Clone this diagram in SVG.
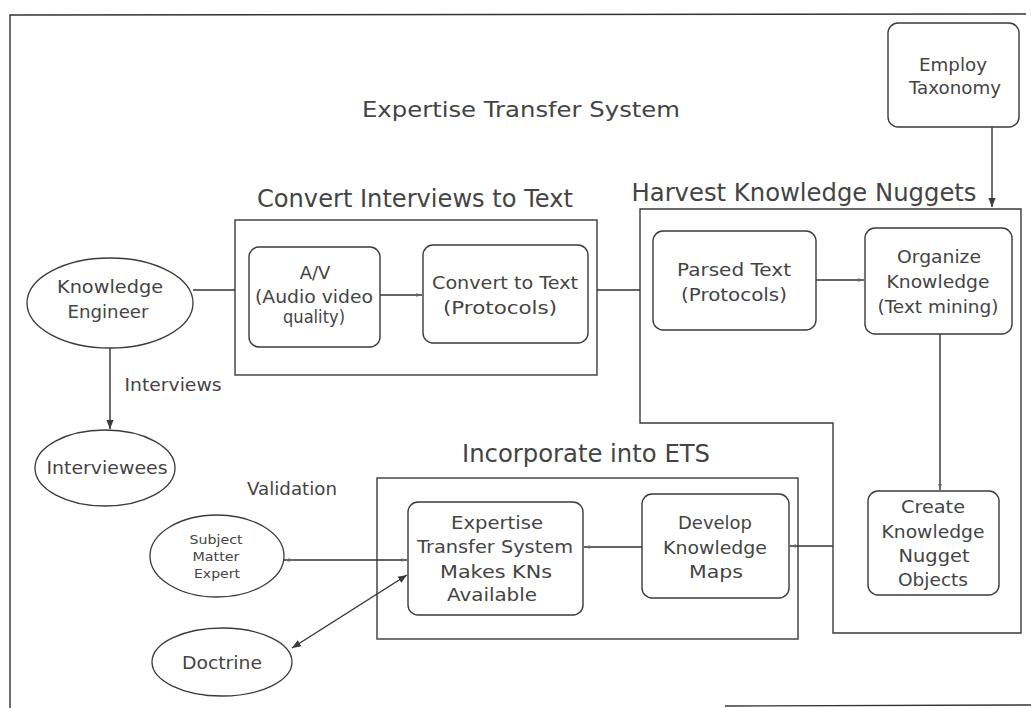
<svg xmlns="http://www.w3.org/2000/svg" width="1031" height="708" viewBox="0 0 1031 708">
<defs>
<marker id="ah" viewBox="0 0 10 10" refX="10" refY="5" markerWidth="9" markerHeight="9" orient="auto-start-reverse" markerUnits="userSpaceOnUse">
<path d="M0,1 L10,5 L0,9 Z" fill="#3a3a3a"/>
</marker>
<marker id="as" viewBox="0 0 10 10" refX="10" refY="5" markerWidth="6" markerHeight="6" orient="auto-start-reverse" markerUnits="userSpaceOnUse">
<path d="M0,2 L10,5 L0,8 Z" fill="#666"/>
</marker>
<style>
text{font-family:"DejaVu Sans","Liberation Sans",sans-serif;fill:#444;text-anchor:middle;}
.t{font-size:18px;}
.s{font-size:13px;}
.h{font-size:24px;}
.b{fill:none;stroke:#3a3a3a;stroke-width:1.4;}
.e{fill:none;stroke:#3a3a3a;stroke-width:1.3;}
.c{fill:none;stroke:#333;stroke-width:1.4;}
</style>
</defs>
<rect width="1031" height="708" fill="#fff"/>
<g id="frame">
<path class="c" d="M10,708 L10,15 L1026,14"/>
<path class="c" d="M725,706 L1031,705"/>
</g>
<text class="h" x="521" y="117" textLength="318" lengthAdjust="spacingAndGlyphs" style="font-size:21px">Expertise Transfer System</text>

<g id="convert-group">
<rect class="b" x="235" y="220" width="362" height="155"/>
<text class="h" x="415" y="207" textLength="316" lengthAdjust="spacingAndGlyphs">Convert Interviews to Text</text>
</g>
<g id="harvest-group">
<path class="b" d="M640,209 L1021,209 L1021,633 L833,633 L833,423 L640,423 Z"/>
<text class="h" x="804" y="201" textLength="345" lengthAdjust="spacingAndGlyphs">Harvest Knowledge Nuggets</text>
</g>
<g id="incorporate-group">
<rect class="b" x="377" y="478" width="421" height="161"/>
<text class="h" x="586" y="462" textLength="248" lengthAdjust="spacingAndGlyphs">Incorporate into ETS</text>
</g>

<g id="connectors">
<line class="c" x1="193" y1="290" x2="235" y2="290"/>
<line class="c" x1="380" y1="295" x2="422" y2="295" marker-end="url(#as)"/>
<line class="c" x1="597" y1="290" x2="640" y2="290"/>
<line class="c" x1="816" y1="280" x2="864" y2="280" marker-end="url(#as)"/>
<line class="c" x1="992" y1="127" x2="992" y2="207" marker-end="url(#ah)"/>
<line class="c" x1="940" y1="334" x2="940" y2="490" marker-end="url(#as)"/>
<line class="c" x1="833" y1="546" x2="790" y2="546" marker-end="url(#as)"/>
<line class="c" x1="642" y1="547" x2="584" y2="547" marker-end="url(#as)"/>
<line class="c" x1="284" y1="560" x2="407" y2="560" marker-start="url(#as)" marker-end="url(#as)"/>
<line class="c" x1="292" y1="648" x2="407" y2="575" marker-start="url(#ah)" marker-end="url(#ah)"/>
<line class="c" x1="110" y1="348" x2="110" y2="429" marker-end="url(#ah)"/>
</g>

<g id="knowledge-engineer">
<ellipse class="e" cx="110" cy="303" rx="83" ry="45"/>
<text class="t" x="110" y="293" textLength="106" lengthAdjust="spacingAndGlyphs">Knowledge</text>
<text class="t" x="108" y="318" textLength="81" lengthAdjust="spacingAndGlyphs">Engineer</text>
</g>
<g id="interviewees">
<ellipse class="e" cx="105" cy="468" rx="70" ry="38"/>
<text class="t" x="107" y="474" textLength="121" lengthAdjust="spacingAndGlyphs">Interviewees</text>
</g>
<text class="t" x="173" y="391" textLength="97" lengthAdjust="spacingAndGlyphs">Interviews</text>
<text class="t" x="292" y="495" textLength="90" lengthAdjust="spacingAndGlyphs">Validation</text>

<g id="sme">
<ellipse class="e" cx="217" cy="556" rx="67" ry="41"/>
<text class="s" x="216" y="544" textLength="53" lengthAdjust="spacingAndGlyphs">Subject</text>
<text class="s" x="216" y="561" textLength="47" lengthAdjust="spacingAndGlyphs">Matter</text>
<text class="s" x="217" y="578" textLength="46" lengthAdjust="spacingAndGlyphs">Expert</text>
</g>
<g id="doctrine">
<ellipse class="e" cx="222" cy="662" rx="70" ry="34"/>
<text class="t" x="222" y="669" textLength="80" lengthAdjust="spacingAndGlyphs">Doctrine</text>
</g>

<g id="av">
<rect class="b" x="249" y="247" width="131" height="100" rx="10"/>
<text class="t" x="315" y="279">A/V</text>
<text class="t" x="314" y="303" textLength="118" lengthAdjust="spacingAndGlyphs">(Audio video</text>
<text class="t" x="314" y="323" textLength="62" lengthAdjust="spacingAndGlyphs">quality)</text>
</g>
<g id="convert-to-text">
<rect class="b" x="423" y="245" width="165" height="98" rx="10"/>
<text class="t" x="505" y="289" textLength="146" lengthAdjust="spacingAndGlyphs">Convert to Text</text>
<text class="t" x="500" y="314" textLength="114" lengthAdjust="spacingAndGlyphs">(Protocols)</text>
</g>
<g id="parsed-text">
<rect class="b" x="653" y="231" width="163" height="99" rx="10"/>
<text class="t" x="734" y="276" textLength="114" lengthAdjust="spacingAndGlyphs">Parsed Text</text>
<text class="t" x="734" y="301" textLength="106" lengthAdjust="spacingAndGlyphs">(Protocols)</text>
</g>
<g id="organize">
<rect class="b" x="865" y="228" width="147" height="106" rx="10"/>
<text class="t" x="939" y="263" textLength="84" lengthAdjust="spacingAndGlyphs">Organize</text>
<text class="t" x="938" y="288" textLength="103" lengthAdjust="spacingAndGlyphs">Knowledge</text>
<text class="t" x="938" y="313" textLength="121" lengthAdjust="spacingAndGlyphs">(Text mining)</text>
</g>
<g id="employ">
<rect class="b" x="888" y="23" width="131" height="104" rx="10"/>
<text class="t" x="953" y="71" textLength="68" lengthAdjust="spacingAndGlyphs">Employ</text>
<text class="t" x="955" y="94" textLength="92" lengthAdjust="spacingAndGlyphs">Taxonomy</text>
</g>
<g id="create">
<rect class="b" x="868" y="491" width="131" height="104" rx="10"/>
<text class="t" x="933" y="513" textLength="64" lengthAdjust="spacingAndGlyphs">Create</text>
<text class="t" x="933" y="538" textLength="103" lengthAdjust="spacingAndGlyphs">Knowledge</text>
<text class="t" x="934" y="562" textLength="71" lengthAdjust="spacingAndGlyphs">Nugget</text>
<text class="t" x="933" y="586" textLength="70" lengthAdjust="spacingAndGlyphs">Objects</text>
</g>
<g id="develop">
<rect class="b" x="642" y="494" width="147" height="104" rx="10"/>
<text class="t" x="715" y="529" textLength="74" lengthAdjust="spacingAndGlyphs">Develop</text>
<text class="t" x="715" y="554" textLength="104" lengthAdjust="spacingAndGlyphs">Knowledge</text>
<text class="t" x="716" y="578" textLength="54" lengthAdjust="spacingAndGlyphs">Maps</text>
</g>
<g id="ets">
<rect class="b" x="408" y="502" width="175" height="113" rx="10"/>
<text class="t" x="497" y="529" textLength="92" lengthAdjust="spacingAndGlyphs">Expertise</text>
<text class="t" x="495" y="553" textLength="156" lengthAdjust="spacingAndGlyphs">Transfer System</text>
<text class="t" x="496" y="578" textLength="112" lengthAdjust="spacingAndGlyphs">Makes KNs</text>
<text class="t" x="492" y="601" textLength="90" lengthAdjust="spacingAndGlyphs">Available</text>
</g>
</svg>
